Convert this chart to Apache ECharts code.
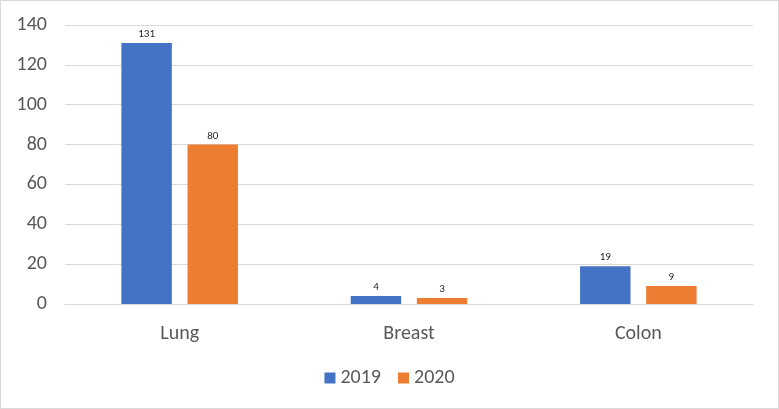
<!DOCTYPE html>
<html>
<head>
<meta charset="utf-8">
<script src="https://cdn.jsdelivr.net/npm/echarts@6/dist/echarts.min.js"></script>
<style>
html, body { margin: 0; padding: 0; background: #fff; }
#chart {
	width: 777px;
	height: 407px;
	border: 1px solid #d9d9d9;
}
</style>
</head>
<body>
<div id="chart"></div>
<script>
// data
const categories = ['Lung', 'Breast', 'Colon']
const values2019 = [131, 4, 19]
const values2020 = [80, 3, 9]
const yTicks = { min: 0, max: 140, interval: 20 }

const font = 'Calibri, Carlito, "Liberation Sans", "Open Sans", sans-serif'

const mychart = echarts.init(document.getElementById('chart'))
mychart.setOption({
	animation: false,
	textStyle: { fontFamily: font },
	grid: { left: 64, right: 25, top: 24, bottom: 104 },
	legend: {
		bottom: 15,
		itemWidth: 11,
		itemHeight: 11,
		itemGap: 17,
		icon: 'rect',
		textStyle: { fontSize: 20, color: '#595959', fontFamily: font },
		data: ['2019', '2020'],
	},
	xAxis: {
		type: 'category',
		data: categories,
		axisLine: { show: true, lineStyle: { color: '#d9d9d9', width: 1 } },
		axisTick: { show: false },
		axisLabel: { fontSize: 20, color: '#595959', margin: 20, fontFamily: font },
	},
	yAxis: {
		type: 'value',
		min: yTicks.min,
		max: yTicks.max,
		interval: yTicks.interval,
		axisLine: { show: false },
		axisTick: { show: false },
		axisLabel: { fontSize: 20, color: '#595959', margin: 18, fontFamily: font },
		splitLine: { lineStyle: { color: '#d9d9d9', width: 1 } },
	},
	series: [
		{
			name: '2019',
			type: 'bar',
			data: values2019,
			barWidth: '22%',
			barGap: '31%',
			itemStyle: { color: '#4472c4' },
			label: { show: true, position: 'top', fontSize: 11, color: '#262626', distance: 3 },
		},
		{
			name: '2020',
			type: 'bar',
			data: values2020,
			barWidth: '22%',
			itemStyle: { color: '#ed7d31' },
			label: { show: true, position: 'top', fontSize: 11, color: '#262626', distance: 3 },
		},
	],
})
</script>
</body>
</html>
